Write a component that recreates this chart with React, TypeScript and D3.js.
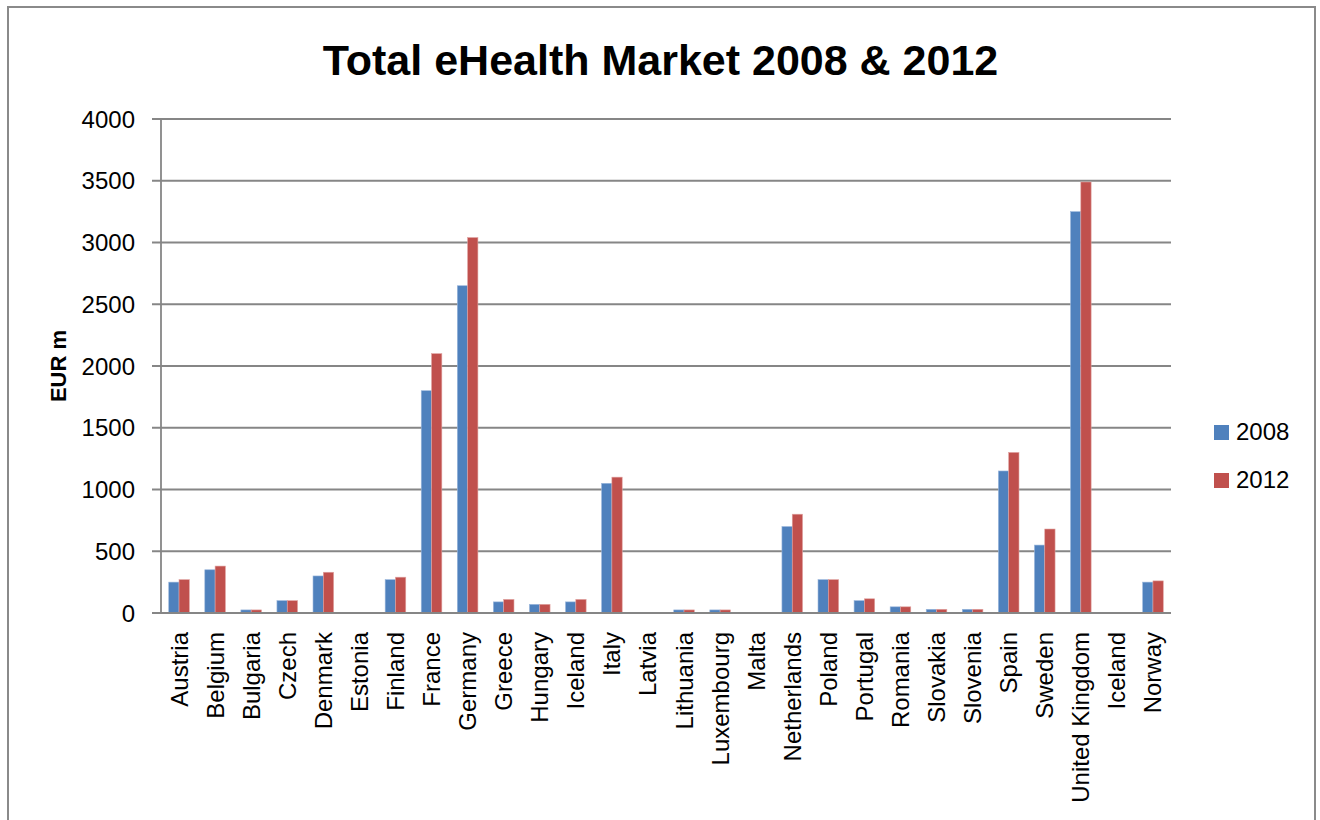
import React from "react";
import * as d3 from "d3";

const categories = [
  "Austria", "Belgium", "Bulgaria", "Czech", "Denmark", "Estonia", "Finland", "France",
  "Germany", "Greece", "Hungary", "Iceland", "Italy", "Latvia", "Lithuania", "Luxembourg",
  "Malta", "Netherlands", "Poland", "Portugal", "Romania", "Slovakia", "Slovenia", "Spain",
  "Sweden", "United Kingdom", "Iceland", "Norway",
];
const values2008 = [250, 350, 25, 100, 300, 5, 270, 1800, 2650, 90, 70, 90, 1050, 5, 25, 25, 3, 700, 270, 100, 50, 30, 30, 1150, 550, 3250, 5, 250];
const values2012 = [270, 380, 25, 100, 330, 5, 290, 2100, 3040, 110, 70, 110, 1100, 5, 25, 25, 3, 800, 270, 115, 50, 30, 30, 1300, 680, 3490, 5, 260];
const seriesNames = ["2008", "2012"];
const seriesColors = ["#4F81BD", "#C0504D"];
const yTicks = [0, 500, 1000, 1500, 2000, 2500, 3000, 3500, 4000];
const title = "Total eHealth Market 2008 & 2012";
const yLabel = "EUR m";

export default function App() {
  const W = 1320, H = 820;
  const left = 161, right = 1171, top = 119, bottom = 613;
  const font = "'Liberation Sans', Arial, sans-serif";
  const grid = "#868686";

  const idx = categories.map((_, i) => String(i));
  const x0 = d3.scaleBand<string>().domain(idx).range([left, right]).paddingInner(1.5 / 3.5).paddingOuter(0.75 / 3.5);
  const x1 = d3.scaleBand<string>().domain(seriesNames).range([0, x0.bandwidth()]).padding(0);
  const y = d3.scaleLinear().domain([0, 4000]).range([bottom, top]);
  const series = [values2008, values2012];
  const step = x0.step();

  return (
    <svg width={W} height={H} style={{ position: "fixed", left: 0, top: 0, background: "#fff" }}>
      <rect x={8} y={7} width={1307} height={840} fill="#fff" stroke="#8a8a8a" strokeWidth={2} />
      <text x={660.5} y={75} textAnchor="middle" fontFamily={font} fontWeight="bold" fontSize={43} fill="#000">{title}</text>
      {yTicks.map((t) => (
        <g key={t}>
          <line x1={152} x2={t === 0 ? right : right} y1={y(t)} y2={y(t)} stroke={grid} strokeWidth={1.8} />
          <text x={135} y={y(t) + 8.5} textAnchor="end" fontFamily={font} fontSize={24} fill="#000">{t}</text>
        </g>
      ))}
      <line x1={left} x2={left} y1={top} y2={bottom} stroke={grid} strokeWidth={1.8} />
      {series.map((vals, s) =>
        vals.map((v, i) => (
          <rect
            key={s + "-" + i}
            x={(x0(String(i)) as number) + (x1(seriesNames[s]) as number)}
            y={y(v)}
            width={x1.bandwidth()}
            height={bottom - y(v)}
            fill={seriesColors[s]}
            stroke={s === 0 ? "#9bb7dc" : "#e0a3a1"}
            strokeWidth={0.6}
          />
        ))
      )}
      <line x1={152} x2={right} y1={bottom} y2={bottom} stroke={grid} strokeWidth={1.8} />
      {categories.map((c, i) => {
        const cx = (x0(String(i)) as number) + x0.bandwidth() / 2;
        return (
          <text key={i} transform={`translate(${cx + 8.5},632) rotate(-90)`} textAnchor="end" fontFamily={font} fontSize={24} fill="#000">{c}</text>
        );
      })}
      <text transform={`translate(66,366) rotate(-90)`} textAnchor="middle" fontFamily={font} fontWeight="bold" fontSize={22} fill="#000">{yLabel}</text>
      {seriesNames.map((n, s) => (
        <g key={n}>
          <rect x={1214} y={425 + s * 48} width={15} height={15} fill={seriesColors[s]} />
          <text x={1236} y={440 + s * 48} fontFamily={font} fontSize={24} fill="#000">{n}</text>
        </g>
      ))}
    </svg>
  );
}
